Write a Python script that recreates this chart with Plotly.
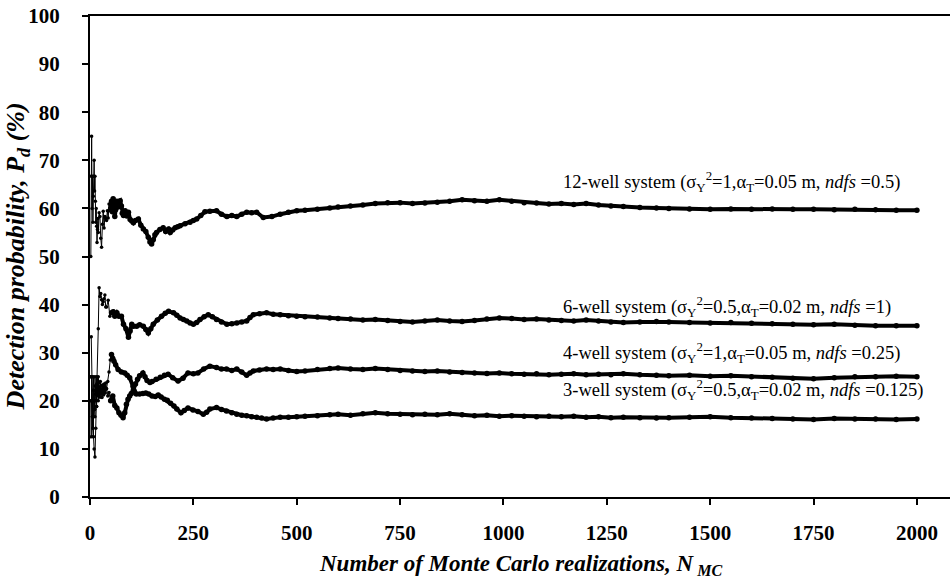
import plotly.graph_objects as go

# Cumulative detection probability (%) versus number of Monte Carlo realizations
n_12 = [2, 3, 4, 5, 6, 7, 8, 9, 10, 11, 12, 13, 14, 15, 16, 17, 18, 19, 20, 22, 24, 26, 28, 30,
        32, 34, 36, 38, 40, 42, 44, 46, 48, 50, 52, 54, 56, 58, 60, 62, 65, 68, 70, 73, 76, 78,
        81, 85, 89, 93, 97, 101, 105, 110, 117, 123, 129, 135, 141, 145, 149, 153, 157, 161,
        169, 177, 183, 190, 194, 200, 206, 212, 218, 230, 242, 250, 258, 268, 278, 290, 306,
        318, 331, 343, 355, 367, 379, 391, 403, 419, 440, 460, 480, 500, 520, 550, 580, 600,
        630, 660, 690, 720, 750, 780, 810, 840, 870, 900, 930, 960, 990, 1020, 1050, 1080,
        1110, 1140, 1170, 1200, 1230, 1260, 1290, 1330, 1370, 1400, 1450, 1500, 1550, 1600,
        1650, 1700, 1750, 1800, 1850, 1900, 1950, 2000]
p_12 = [50, 66.7, 75, 60, 66.7, 57.1, 62.5, 66.7, 70, 63.6, 66.7, 61.5, 57.1, 60, 56.3, 52.9,
        55.6, 57.9, 55, 59.1, 58.3, 53.8, 51.9, 56.7, 59.4, 55.9, 58.3, 57.9, 57.5, 59.5, 58,
        60.9, 59.5, 60, 61.5, 59.3, 62, 60.3, 58.3, 59.7, 61.5, 60.3, 61.4, 61.6, 60.5, 59,
        58.5, 59.5, 58.4, 59.2, 57.7, 57.4, 57, 57.5, 57.8, 56.5, 55.7, 55.2, 54, 53, 52.6,
        53.5, 54.5, 55, 55.6, 56, 55.2, 55.7, 55, 55.5, 56, 56.2, 56.4, 56.8, 57.1, 57.5, 57.8,
        58.5, 59.3, 59.4, 59.5, 58.8, 58.3, 58.5, 58.3, 58.8, 59.2, 59.1, 59.2, 58.1, 58.3,
        58.8, 59.2, 59.5, 59.6, 59.8, 60.1, 60.3, 60.5, 60.7, 61, 61.2, 61.2, 61, 61.1, 61.3,
        61.5, 61.8, 61.6, 61.5, 61.8, 61.5, 61.2, 61.1, 60.9, 61, 60.8, 61, 60.7, 60.5, 60.4,
        60.2, 60.1, 60, 59.9, 59.8, 59.9, 59.8, 59.9, 59.8, 59.8, 59.7, 59.8, 59.7, 59.6, 59.6]

n_6 = [2, 4, 6, 8, 10, 12, 14, 16, 18, 20, 22, 24, 26, 28, 30, 32, 34, 36, 38, 40, 44, 48, 52,
       56, 60, 65, 70, 76, 81, 87, 93, 97, 101, 105, 113, 120, 129, 135, 141, 147, 153, 163,
       173, 182, 190, 202, 210, 218, 226, 234, 242, 250, 258, 266, 276, 286, 296, 306, 318,
       331, 343, 355, 367, 379, 387, 395, 410, 427, 443, 460, 480, 500, 520, 550, 580, 600,
       630, 660, 690, 720, 750, 780, 810, 840, 870, 900, 930, 960, 990, 1020, 1050, 1080,
       1110, 1140, 1170, 1200, 1230, 1260, 1290, 1330, 1370, 1400, 1450, 1500, 1550, 1600,
       1650, 1700, 1750, 1800, 1850, 1900, 1950, 2000]
p_6 = [25, 25, 16.7, 12.5, 10, 8.3, 14.3, 18.8, 24.4, 35, 43.5, 41.7, 42.3, 41, 40, 40.6, 41.2,
       42, 39.5, 39.5, 40.9, 37.6, 38.3, 38.5, 37.6, 38.3, 37.6, 37.6, 35.9, 35, 33.2, 34.5,
       35.9, 35.5, 35.5, 35.8, 35.5, 34.8, 34.1, 35, 35.9, 36.8, 37.6, 38.2, 38.6, 38.3, 37.8,
       37.2, 36.9, 36.6, 36.2, 35.9, 36.3, 36.9, 37.5, 37.9, 37.5, 36.9, 36.4, 35.9, 36, 36.2,
       36.4, 36.6, 37.3, 37.9, 38.1, 38.3, 38, 37.9, 37.7, 37.6, 37.5, 37.4, 37.2, 37.1, 37,
       36.8, 36.9, 36.7, 36.5, 36.4, 36.6, 36.8, 36.6, 36.5, 36.7, 37, 37.2, 37.1, 36.9, 37,
       36.8, 36.7, 36.6, 36.8, 36.6, 36.4, 36.3, 36.4, 36.5, 36.4, 36.3, 36.2, 36.3, 36.1, 36,
       35.9, 35.8, 35.9, 35.7, 35.6, 35.6, 35.6]

n_4 = [2, 3, 4, 5, 6, 7, 8, 9, 10, 11, 12, 13, 14, 15, 16, 17, 18, 19, 20, 21, 22, 24, 26, 28,
       30, 32, 34, 36, 38, 40, 43, 46, 50, 55, 60, 65, 70, 75, 80, 84, 88, 92, 96, 100, 105,
       110, 115, 120, 128, 133, 138, 145, 150, 160, 170, 180, 189, 200, 213, 225, 237, 250,
       261, 275, 290, 306, 318, 330, 343, 355, 367, 379, 387, 395, 410, 427, 443, 460, 480,
       500, 520, 550, 580, 600, 630, 660, 690, 720, 750, 780, 810, 840, 870, 900, 930, 960,
       990, 1020, 1050, 1080, 1110, 1140, 1170, 1200, 1230, 1260, 1290, 1330, 1370, 1400,
       1450, 1500, 1550, 1600, 1650, 1700, 1750, 1800, 1850, 1900, 1950, 2000]
p_4 = [20, 12.5, 25, 20, 16.7, 14.3, 25, 22.2, 20, 18.2, 25, 23.1, 21.4, 20, 25, 23.5, 22.2,
       21.1, 20, 23.8, 22.7, 20.8, 23.1, 21.4, 23.3, 21.9, 23.5, 22.2, 23.7, 22.5, 21, 21.7,
       20, 21, 19, 18.5, 17.5, 17, 16.5, 17.5, 19.3, 20.3, 21, 21.5, 22.3, 23.5, 24.5, 25.2,
       25.8, 25, 24.2, 23.8, 24, 24.5, 24.9, 25.3, 25.5, 24.8, 24.1, 24.7, 25.8, 25.6, 25.8,
       26.6, 27.2, 26.9, 26.6, 26.6, 26.3, 26.6, 26, 25.3, 25.8, 26.2, 26.4, 26.6, 26.5,
       26.6, 26.3, 26.1, 26.2, 26.5, 26.7, 26.8, 26.6, 26.5, 26.7, 26.5, 26.3, 26.2, 26.1,
       26.2, 26, 25.9, 25.8, 25.7, 25.8, 25.6, 25.5, 25.6, 25.4, 25.5, 25.6, 25.4, 25.5,
       25.4, 25.6, 25.4, 25.3, 25.2, 25.3, 25.1, 25.2, 25, 24.9, 24.7, 24.6, 24.8, 25, 25,
       25.1, 25]

n_3 = [3, 4, 5, 6, 7, 8, 9, 10, 11, 12, 13, 14, 15, 16, 17, 18, 19, 20, 21, 22, 23, 24, 25,
       27, 29, 31, 33, 35, 37, 40, 43, 46, 49, 52, 55, 58, 62, 68, 76, 84, 90, 96, 104, 112,
       120, 128, 135, 142, 150, 158, 165, 172, 180, 187, 195, 203, 210, 220, 228, 237, 249,
       261, 274, 282, 290, 306, 318, 330, 343, 355, 367, 379, 391, 403, 415, 427, 443, 460,
       480, 500, 520, 550, 580, 600, 630, 660, 690, 720, 750, 780, 810, 840, 870, 900, 930,
       960, 990, 1020, 1050, 1080, 1110, 1140, 1170, 1200, 1230, 1260, 1290, 1330, 1370,
       1400, 1450, 1500, 1550, 1600, 1650, 1700, 1750, 1800, 1850, 1900, 1950, 2000]
p_3 = [33.3, 25, 20, 16.7, 14.3, 12.5, 22.2, 20, 18.2, 16.7, 23.1, 21.4, 20, 18.8, 23.5, 22.2,
       21.1, 25, 23.8, 22.7, 21.7, 20.8, 24, 22.2, 20.7, 22.6, 21.2, 22.9, 21.6, 22.5, 24, 26,
       28.5, 29.6, 28.8, 28.2, 27.5, 26.5, 26, 25.8, 25.3, 24.8, 23, 21.4, 21.4, 21.5, 21.6,
       21.4, 21, 20.9, 21.2, 20.8, 20.3, 20.1, 19.5, 18.9, 18.3, 17.5, 18, 18.5, 18.1, 17.8,
       17.2, 17.6, 18.3, 18.6, 18.2, 17.9, 17.5, 17.2, 17, 16.9, 16.7, 16.6, 16.4, 16.2, 16.4,
       16.6, 16.6, 16.7, 16.8, 16.9, 17.1, 17.2, 17, 17.3, 17.5, 17.3, 17.2, 17.1, 17.2, 17.1,
       17.3, 17.1, 16.9, 17, 16.8, 16.9, 16.8, 16.7, 16.8, 16.7, 16.8, 16.6, 16.7, 16.5, 16.6,
       16.5, 16.4, 16.5, 16.6, 16.7, 16.5, 16.4, 16.3, 16.2, 16.1, 16.3, 16.2, 16.2, 16.1, 16.2]

series = [(n_12, p_12), (n_6, p_6), (n_4, p_4), (n_3, p_3)]

labels = [
    "12-well system (σ<sub>Y</sub><sup>2</sup>=1,α<sub>T</sub>=0.05 m, <i>ndfs</i> =0.5)",
    "6-well system (σ<sub>Y</sub><sup>2</sup>=0.5,α<sub>T</sub>=0.02 m, <i>ndfs</i> =1)",
    "4-well system (σ<sub>Y</sub><sup>2</sup>=1,α<sub>T</sub>=0.05 m, <i>ndfs</i> =0.25)",
    "3-well system (σ<sub>Y</sub><sup>2</sup>=0.5,α<sub>T</sub>=0.02 m, <i>ndfs</i> =0.125)",
]
label_y = [65.6, 39.6, 30.0, 22.3]
label_x = 1140

x_ticks = [0, 250, 500, 750, 1000, 1250, 1500, 1750, 2000]
y_ticks = [0, 10, 20, 30, 40, 50, 60, 70, 80, 90, 100]

SERIF = "Liberation Serif"

fig = go.Figure()
for n, p in series:
    # thin connectors with a dot at every realization
    fig.add_trace(go.Scatter(x=n, y=p, mode="lines+markers",
                             line=dict(color="black", width=1),
                             marker=dict(color="black", size=3.5),
                             showlegend=False, hoverinfo="skip"))
    # dense stretch of markers beyond the early transient
    dense = [(a, b) for a, b in zip(n, p) if a >= 50]
    fig.add_trace(go.Scatter(x=[d[0] for d in dense], y=[d[1] for d in dense],
                             mode="lines+markers", line=dict(color="black", width=4),
                             marker=dict(color="black", size=5.5),
                             showlegend=False, hoverinfo="skip"))

for txt, yv in zip(labels, label_y):
    fig.add_annotation(x=label_x, y=yv, xref="x", yref="y", text=txt, showarrow=False,
                       xanchor="left", yanchor="middle",
                       font=dict(family=SERIF, size=18.5, color="black"))

fig.add_annotation(x=0.5, y=-0.142, xref="paper", yref="paper",
                   text="<i>Number of Monte Carlo realizations, N<sub> MC</sub></i>",
                   showarrow=False, xanchor="center", yanchor="middle",
                   font=dict(family=SERIF, size=23, color="black", weight="bold"))
fig.add_annotation(x=-0.085, y=0.5, xref="paper", yref="paper",
                   text="<i>Detection probability, P<sub>d</sub> (%)</i>",
                   textangle=-90, showarrow=False, xanchor="center", yanchor="middle",
                   font=dict(family=SERIF, size=26, color="black", weight="bold"))

fig.update_layout(
    width=950, height=579,
    margin=dict(l=90, r=0, t=16, b=82),
    plot_bgcolor="white", paper_bgcolor="white",
)
fig.update_xaxes(range=[0, 2080], tickvals=x_ticks,
                 tickfont=dict(family=SERIF, size=21, color="black", weight="bold"),
                 ticks="outside", ticklen=6, tickwidth=2, tickcolor="black",
                 ticklabelstandoff=10,
                 showline=True, linewidth=2, linecolor="black", mirror=True,
                 showgrid=False, zeroline=False)
fig.update_yaxes(range=[0, 100], tickvals=y_ticks,
                 tickfont=dict(family=SERIF, size=21, color="black", weight="bold"),
                 ticks="outside", ticklen=6, tickwidth=2, tickcolor="black",
                 ticklabelstandoff=18,
                 showline=True, linewidth=2, linecolor="black",
                 showgrid=False, zeroline=False)

fig.write_html("out.html")
